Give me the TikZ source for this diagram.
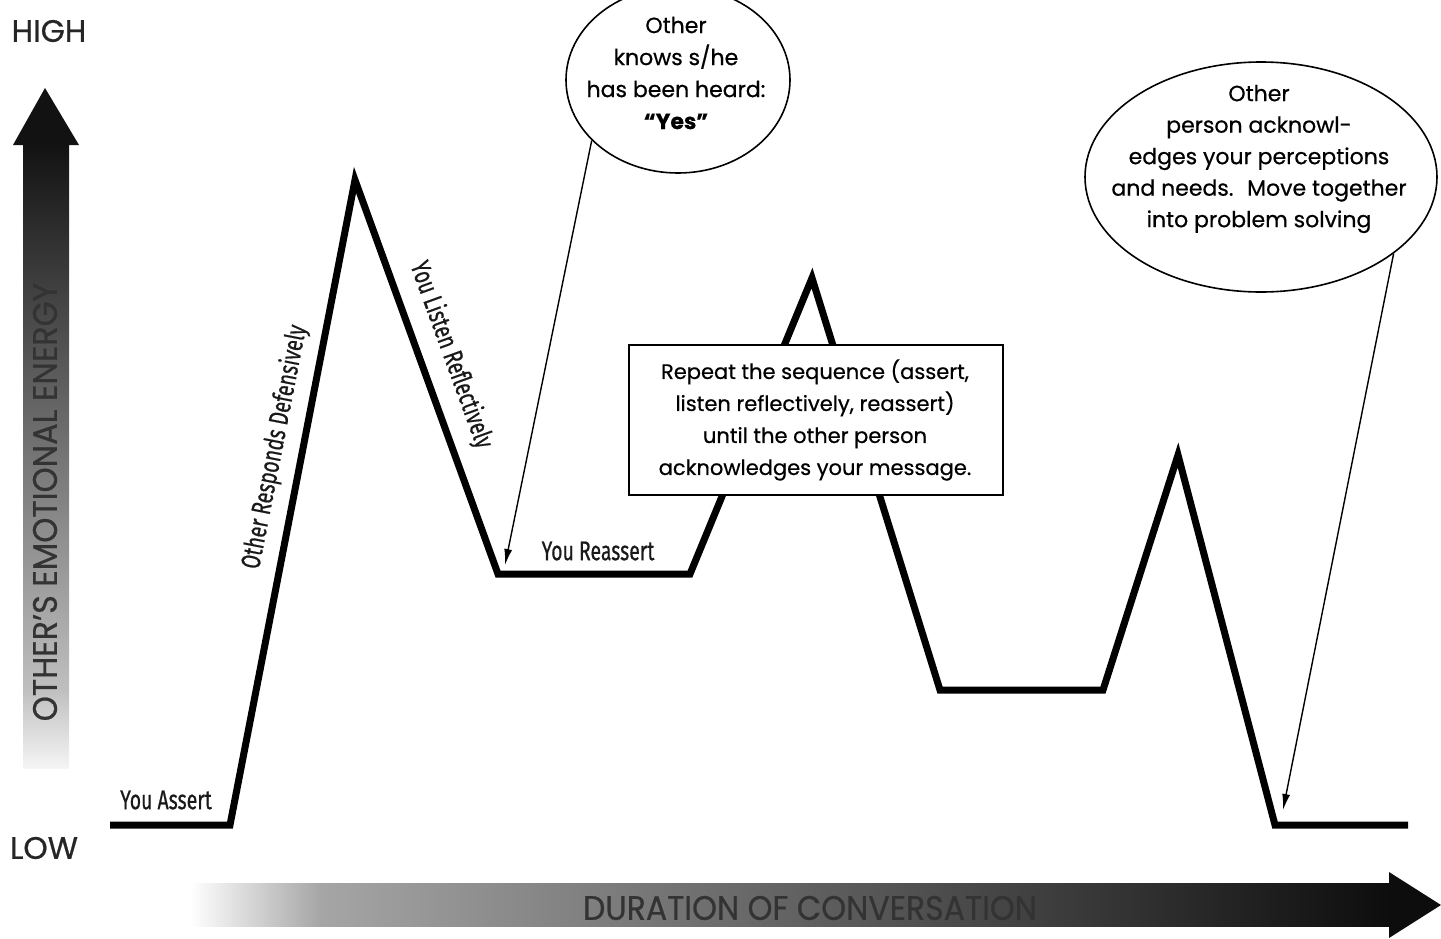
\documentclass[tikz,border=0pt]{standalone}
\usepackage{fontspec}
\setmainfont{Poppins}[FakeBold=0.6]
\newfontfamily\condfont{Fira Sans}[FakeBold=0.8]
\usetikzlibrary{shapes.geometric,arrows.meta}
\begin{document}
\begin{tikzpicture}[x=1pt,y=-1pt,
  curve/.style={line width=7pt, line join=miter, miter limit=20},
  pointer/.style={line width=1.4pt, -{Latex[length=16pt,width=8pt]}},
  bubble/.style={draw, ellipse, line width=1.6pt, fill=white, inner sep=0pt},
  msgbox/.style={draw, rectangle, line width=2.4pt, fill=white, inner sep=0pt},
  btext/.style={align=center, font=\fontsize{21}{32}\selectfont, text=black},
  cond/.style={font=\condfont\fontsize{27}{30}\selectfont, text=black!90, inner sep=0pt},
  axis/.style={font=\fontsize{31}{36}\selectfont, text=black!85, inner sep=0pt}
]
\path[use as bounding box] (0,0) rectangle (1441,938);

% vertical axis arrow
\shade[bottom color=black!4, top color=black!25] (23,768) rectangle (69,690);
\shade[bottom color=black!25, top color=black!93] (23,690.5) rectangle (69,143);
\fill[black!93] (13,145) -- (45,88) -- (79,145) -- cycle;
\node[axis, rotate=90, font=\fontsize{34}{36}\selectfont, text=black!80] (ylab) at (45,502) {\scalebox{0.94}[1]{OTHER'S EMOTIONAL ENERGY}};

% horizontal axis arrow
\shade[left color=white, right color=black!35] (190,883) rectangle (320,926);
\shade[left color=black!35, right color=black!95] (319.5,883) rectangle (1391,926);
\fill[black!95] (1389,872) -- (1441,905) -- (1389,938) -- cycle;
\node[axis, font=\fontsize{34}{36}\selectfont, text=black!80] (xlab) at (810,908) {\scalebox{0.93}[1]{DURATION OF CONVERSATION}};

% axis labels
\node[axis] (high) at (49,31) {HIGH};
\node[axis] (low) at (44,848) {LOW};

% main curve
\coordinate (c0) at (110,825);
\coordinate (c1) at (230,825);
\coordinate (c2) at (355,180);
\coordinate (c3) at (498,574);
\coordinate (c4) at (690,574);
\coordinate (c5) at (812,278);
\coordinate (c6) at (940,690);
\coordinate (c7) at (1103,690);
\coordinate (c8) at (1178,455);
\coordinate (c9) at (1275,825);
\coordinate (c10) at (1408,825);
\draw[curve] (c0) -- (c1) -- (c2) -- (c3) -- (c4) -- (c5) -- (c6) -- (c7) -- (c8) -- (c9) -- (c10);

% curve labels
\node[cond] (assert) at (166,800) {\scalebox{0.72}[1]{You Assert}};
\node[cond] (reassert) at (598,551) {\scalebox{0.72}[1]{You Reassert}};
\node[cond, rotate=79] (defens) at (275,447) {\scalebox{0.72}[1]{Other Responds Defensively}};
\node[cond, rotate=-70] (listen) at (451,355) {\scalebox{0.72}[1]{You Listen Reflectively}};

% message box
\node[msgbox, minimum width=374pt, minimum height=150pt] (box) at (816,420) {};
\node[btext] (boxtext) at (815,420) {Repeat the sequence (assert,\\listen reflectively, reassert)\\until the other person\\acknowledges your message.};

% bubble 1
\node[bubble, minimum width=224pt, minimum height=186pt] (e1) at (678,80) {};
\node[btext, font=\fontsize{22}{32}\selectfont] (e1text) at (676,73) {Other\\knows s/he\\has been heard:\\\textbf{``Yes''}};
\coordinate (p1) at (505,565);
\draw[pointer] (e1.215) -- (p1);

% bubble 2
\node[bubble, minimum width=352pt, minimum height=230pt] (e2) at (1261,177) {};
\node[btext, font=\fontsize{22}{31.5}\selectfont] (e2text) at (1259,159) {Other\\person acknowl-\\edges your perceptions\\and needs.~ Move together\\into problem solving};
\coordinate (p2) at (1283,810);
\draw[pointer] (e2.330) -- (p2);
\end{tikzpicture}
\end{document}
